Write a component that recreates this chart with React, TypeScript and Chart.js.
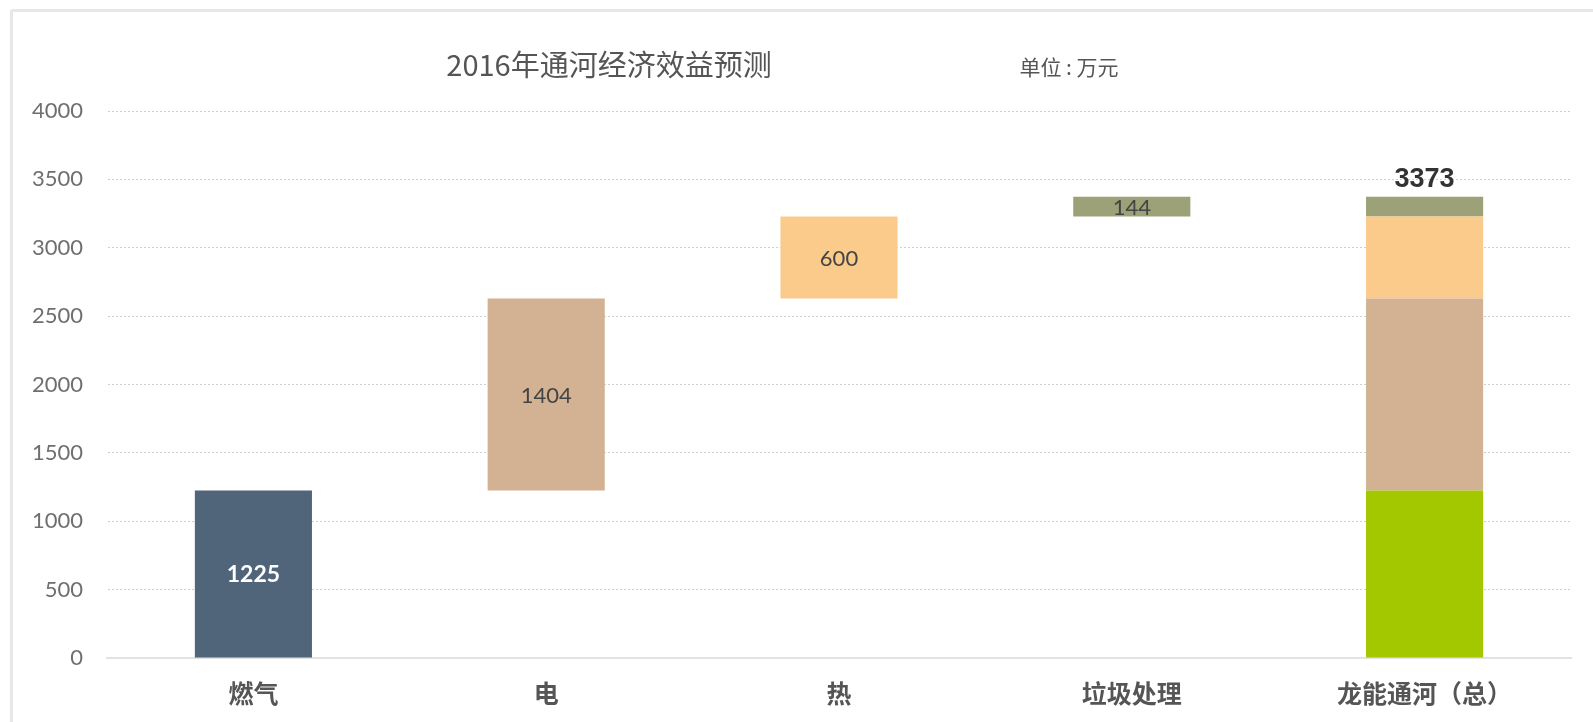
import React, { useEffect, useRef } from "react";
import { Chart, registerables } from "chart.js";

Chart.register(...registerables);

const categories = ["燃气", "电", "热", "垃圾处理", "龙能通河（总）"];
const componentValues = [1225, 1404, 600, 144];
const totalValue = 3373;
const componentColors = ["#50657a", "#d3b293", "#fbcb8b", "#9ca178"];
const totalBaseColor = "#a3c800";
const componentLabelColors = ["#ffffff", "#444444", "#444444", "#444444"];
const componentLabelWeights = ["bold", "normal", "normal", "normal"];
const yMin = 0;
const yMax = 4000;
const yStep = 500;
const titleText = "2016年通河经济效益预测";
const unitText = "单位 : 万元";

const CJK = '"Noto Sans CJK SC", "Noto Sans", sans-serif';
const NUM = 'Lato, "Noto Sans", sans-serif';

export default function App() {
  const canvasRef = useRef<HTMLCanvasElement | null>(null);

  useEffect(() => {
    const canvas = canvasRef.current;
    if (!canvas) return;
    const totalIndex = categories.length - 1;
    let running = 0;
    const datasets = componentValues.map((v, i) => {
      const start = running;
      running += v;
      const end = running;
      return {
        label: categories[i],
        data: categories.map((_, j) =>
          j === i || j === totalIndex ? [start, end] : null
        ) as any,
        backgroundColor: categories.map((_, j) =>
          j === totalIndex && i === 0 ? totalBaseColor : componentColors[i]
        ),
        borderWidth: 0,
        grouped: false,
        categoryPercentage: 1,
        barPercentage: 0.4,
      };
    });

    const textPlugin = {
      id: "texts",
      afterDatasetsDraw(chart: any) {
        const ctx = chart.ctx;
        ctx.save();
        ctx.textAlign = "center";
        ctx.textBaseline = "middle";
        componentValues.forEach((v, i) => {
          const el = chart.getDatasetMeta(i).data[i];
          if (!el) return;
          const { x, y, base } = el.getProps(["x", "y", "base"], true);
          ctx.fillStyle = componentLabelColors[i];
          ctx.font = `${componentLabelWeights[i]} ${i === 0 ? 23 : 22}px ${NUM}`;
          ctx.fillText(String(v), x, (y + base) / 2 + 1);
        });
        const topEl = chart.getDatasetMeta(componentValues.length - 1).data[totalIndex];
        if (topEl) {
          const { x, y } = topEl.getProps(["x", "y"], true);
          ctx.fillStyle = "#333333";
          ctx.font = `bold 27px "Liberation Sans", Arial, sans-serif`;
          ctx.fillText(String(totalValue), x, y - 17);
        }
        ctx.fillStyle = "#555555";
        ctx.font = `29px ${CJK}`;
        ctx.fillText(titleText, 609, 65);
        ctx.font = `21px ${CJK}`;
        ctx.fillText(unitText, 1069, 67);
        ctx.restore();
      },
    };

    const chart = new Chart(canvas, {
      type: "bar",
      data: { labels: categories, datasets },
      options: {
        animation: false,
        responsive: false,
        maintainAspectRatio: false,
        layout: { padding: { left: 0, right: 22, top: 111, bottom: 0 } },
        plugins: {
          legend: { display: false },
          title: { display: false },
          tooltip: { enabled: false },
        },
        scales: {
          x: {
            grid: { display: false, drawTicks: false },
            border: { display: true, color: "#e2e2e2", width: 2 },
            ticks: {
              color: "#555555",
              font: { family: CJK, size: 25, weight: "bold" },
              padding: 20,
              maxRotation: 0,
            },
            afterFit(scale: any) {
              scale.height = 64;
            },
          },
          y: {
            min: yMin,
            max: yMax,
            grid: {
              color: "#cfcfcf",
              lineWidth: 1,
              drawTicks: false,
            },
            border: { display: true, color: "rgba(0,0,0,0)", dash: [2, 2] },
            ticks: {
              stepSize: yStep,
              color: "#6f6f6f",
              font: { family: NUM, size: 22, weight: "normal" },
              padding: 24,
              callback: (v: any) => String(v),
            },
            afterFit(scale: any) {
              scale.width = 107;
            },
          },
        },
      } as any,
      plugins: [textPlugin],
    });
    return () => chart.destroy();
  }, []);

  return (
    <div
      style={{
        position: "fixed",
        left: 0,
        top: 0,
        width: 1593,
        height: 722,
        overflow: "hidden",
        background: "#ffffff",
      }}
    >
      <div
        style={{
          position: "absolute",
          left: 10,
          top: 9,
          width: 1700,
          height: 800,
          border: "3px solid #e7e7e7",
          borderRadius: 3,
        }}
      />
      <canvas
        ref={canvasRef}
        width={1593}
        height={722}
        style={{ position: "absolute", left: 0, top: 0, width: 1593, height: 722 }}
      />
    </div>
  );
}
